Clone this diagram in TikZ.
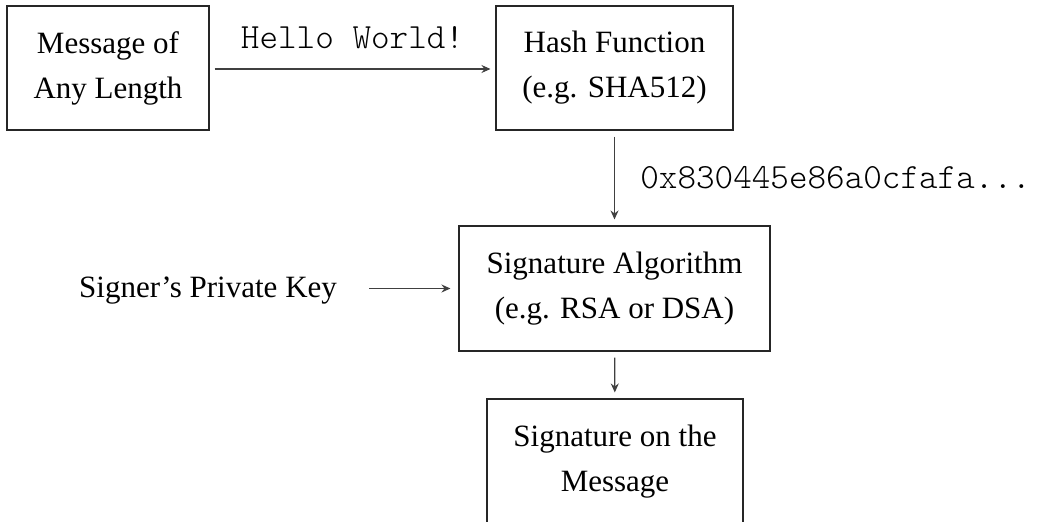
\documentclass[tikz,border=0pt]{standalone}
\usepackage{fontspec}
\setmainfont{Liberation Serif}
\setmonofont{lmmonolt10-regular}[Extension=.otf]
\usetikzlibrary{arrows.meta}
\begin{document}
\begin{tikzpicture}[x=1pt,y=-1pt,
  every node/.style={font=\fontsize{31}{45}\selectfont},
  mono/.style={font=\fontsize{35.4}{45}\selectfont\ttfamily},
  box/.style={draw=black!85, line width=1.1pt, align=center, inner sep=0pt},
  arr/.style={draw=black!75, line width=1.1pt, -{Stealth[length=9pt,width=8pt,inset=3pt]}}]
\useasboundingbox (0,0) rectangle (1037,522);
\clip (0,0) rectangle (1037,522);
\node[box, minimum width=202pt, minimum height=124pt] (msg) at (108,68) {Message of\\Any Length};
\node[box, minimum width=237pt, minimum height=124pt] (hash) at (614.5,68) {Hash Function\\(e.g. SHA512)};
\node[box, minimum width=311pt, minimum height=125pt] (sig) at (614.5,288.5) {Signature Algorithm\\(e.g. RSA or DSA)};
\node[box, minimum width=256pt, minimum height=125pt] (out) at (615,461.5) {Signature on the\\Message};
\node[anchor=base west, inner sep=0pt] (key) at (79,297) {Signer’s Private Key};
\draw[arr, shorten <=5pt, shorten >=5pt] (msg.east |- 0,69) -- node[above=16pt, mono] (hello) {Hello World!} (hash.west |- 0,69);
\draw[arr, shorten <=6pt, shorten >=6pt] (hash) -- node[right=22pt, mono] (hashval) {0x830445e86a0cfafa...} (sig);
\draw[arr, shorten <=32pt, shorten >=8pt] (key.east |- sig.west) -- (sig.west);
\draw[arr, shorten <=6pt, shorten >=6pt] (sig) -- (out);
\end{tikzpicture}
\end{document}
